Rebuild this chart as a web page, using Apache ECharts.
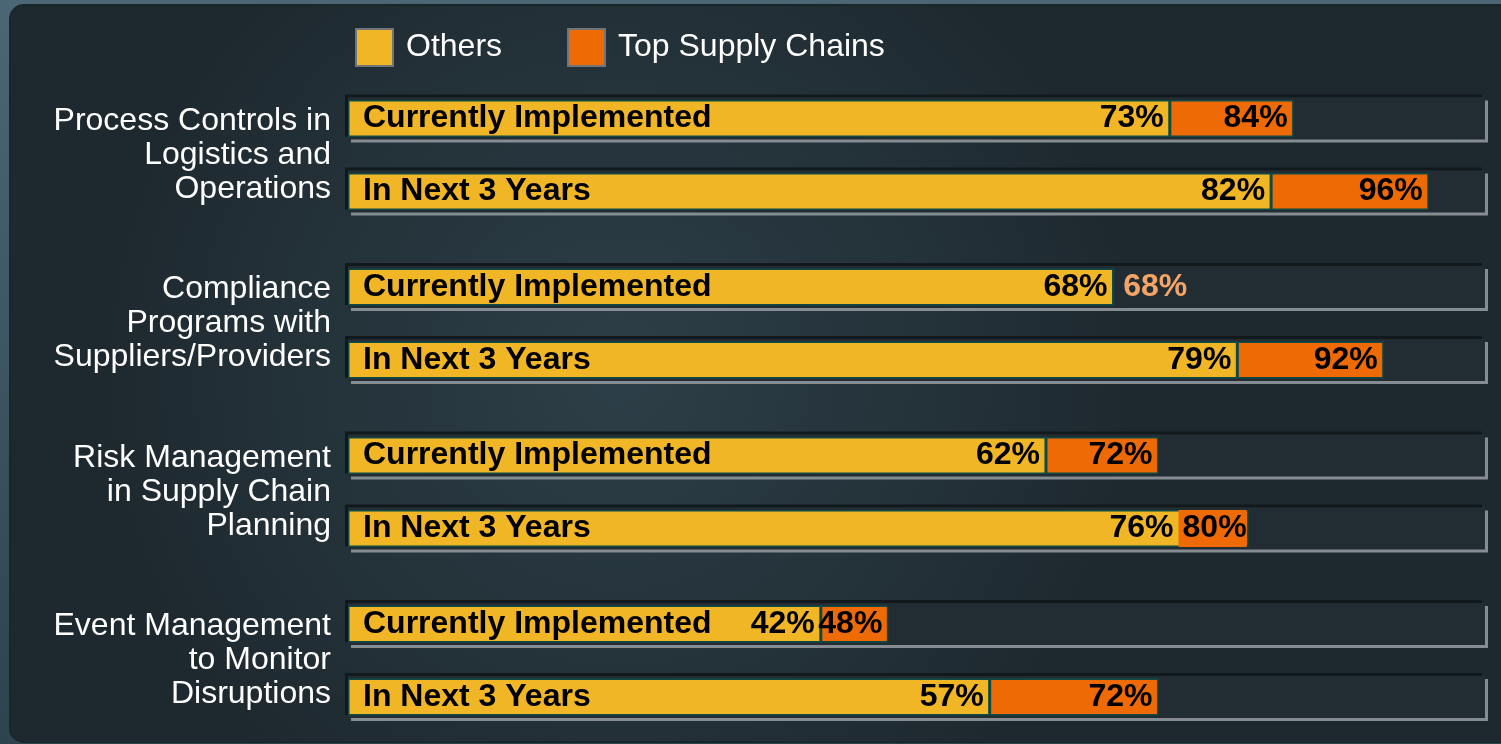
<!DOCTYPE html>
<html>
<head>
<meta charset="utf-8">
<title>Supply chain practices</title>
<script src="https://cdn.jsdelivr.net/npm/echarts@6/dist/echarts.min.js"></script>
<style>
  html, body { margin: 0; padding: 0; background: #3d5663; }
  #main { width: 1501px; height: 744px; }
</style>
</head>
<body>
<div id="main"></div>
<script>
// data
var groupNames = [
  'Process Controls in\nLogistics and\nOperations',
  'Compliance\nPrograms with\nSuppliers/Providers',
  'Risk Management\nin Supply Chain\nPlanning',
  'Event Management\nto Monitor\nDisruptions'
];
var rowNames = ['Currently Implemented', 'In Next 3 Years'];
var othersVals = [73, 82, 68, 79, 62, 76, 42, 57];
var topVals = [84, 96, 68, 92, 72, 80, 48, 72];
var legendNames = ['Others', 'Top Supply Chains'];
var axisMax = 101;

var YELLOW = '#f0b626';
var ORANGE = '#ee6a04';
var EDGE = '#0f4a47';
var TRACK = '#222d33';
var font = "'Liberation Sans', Arial, sans-serif";

var myChart = echarts.init(document.getElementById('main'));

var grids = [], xAxes = [], yAxes = [], series = [];

groupNames.forEach(function (g, i) {
  var o = othersVals.slice(i * 2, i * 2 + 2);
  var t = topVals.slice(i * 2, i * 2 + 2);

  grids.push({ left: 348, right: 16, top: 82 + i * 168.5, height: 146 });
  xAxes.push({ type: 'value', gridIndex: i, min: 0, max: axisMax, show: false });
  // rows axis: row names inside the bars, group name on the left
  yAxes.push({
    type: 'category', gridIndex: i, data: rowNames, inverse: true, z: 5,
    axisLine: { show: false }, axisTick: { show: false }, splitLine: { show: false },
    axisLabel: { inside: true, margin: 15, color: '#000', fontWeight: 'bold', fontSize: 32, fontFamily: font, padding: [5, 0, 0, 0] },
    name: g, nameLocation: 'middle', nameGap: 17, nameRotate: 0,
    nameTextStyle: { color: '#fff', fontSize: 32, lineHeight: 34, align: 'right', verticalAlign: 'middle', fontFamily: font, padding: [8, 0, 0, 0] }
  });
  // separate axis for the background tracks so they stay centred
  yAxes.push({ type: 'category', gridIndex: i, data: rowNames, inverse: true, position: 'right', show: false });

  var trackData = rowNames.map(function () { return axisMax; });
  series.push({
    type: 'bar', xAxisIndex: i, yAxisIndex: i * 2 + 1, data: trackData, barWidth: 42, barGap: '-100%', silent: true,
    itemStyle: { color: TRACK, shadowColor: '#12191d', shadowBlur: 0, shadowOffsetX: -3, shadowOffsetY: -3 }
  });
  series.push({
    type: 'bar', xAxisIndex: i, yAxisIndex: i * 2 + 1, data: trackData, barWidth: 42, barGap: '-100%', silent: true,
    itemStyle: { color: TRACK, shadowColor: '#868d92', shadowBlur: 0, shadowOffsetX: 3, shadowOffsetY: 3 }
  });

  var tight = t.map(function (v, k) { return v - o[k] > 0 && v - o[k] < 6; });

  series.push({
    name: 'Others', type: 'bar', stack: 's' + i, xAxisIndex: i, yAxisIndex: i * 2, barWidth: 37,
    data: o.map(function (v, k) {
      return tight[k] ? { value: v, label: { distance: 30 } } : v;
    }),
    itemStyle: { color: YELLOW, borderColor: EDGE, borderWidth: 1.5 },
    label: { show: true, position: 'insideRight', distance: 6, formatter: '{c}%', color: '#000', fontWeight: 'bold', fontSize: 32, fontFamily: font, padding: [5, 0, 0, 0] }
  });
  series.push({
    name: 'Top Supply Chains', type: 'bar', stack: 's' + i, xAxisIndex: i, yAxisIndex: i * 2, barWidth: 37,
    data: t.map(function (v, k) {
      var d = v - o[k];
      if (d === 0) return { value: 0, label: { position: 'right', distance: 9, color: '#f5a467' } };
      if (tight[k]) return { value: d, label: { distance: 2, backgroundColor: ORANGE, padding: [5, 0, 0, 4] } };
      return d;
    }),
    itemStyle: { color: ORANGE, borderColor: EDGE, borderWidth: 1.5 },
    label: {
      show: true, position: 'insideRight', distance: 6, color: '#000', fontWeight: 'bold', fontSize: 32, fontFamily: font, padding: [5, 0, 0, 0],
      formatter: function (p) { return t[p.dataIndex] + '%'; }
    }
  });
});

myChart.setOption({
  animation: false,
  backgroundColor: new echarts.graphic.LinearGradient(0, 0, 0, 1, [
    { offset: 0, color: '#4b6775' },
    { offset: 1, color: '#2d434e' }
  ]),
  graphic: {
    elements: [{
      type: 'rect', z: -10, silent: true,
      shape: { x: 10, y: 5, width: 1520, height: 737, r: 14 },
      style: {
        fill: new echarts.graphic.RadialGradient(0.4, 0.5, 0.7, [
          { offset: 0, color: '#2d3f48' },
          { offset: 1, color: '#1e292f' }
        ]),
        stroke: '#1b262b', lineWidth: 2
      }
    }]
  },
  legend: {
    data: legendNames, left: 350, top: 23, itemWidth: 37, itemHeight: 37, itemGap: 65,
    icon: 'rect',
    itemStyle: { borderColor: '#6f7579', borderWidth: 2 },
    textStyle: { color: '#fff', fontSize: 32, fontFamily: font, padding: [4, 0, 0, 8] }
  },
  grid: grids,
  xAxis: xAxes,
  yAxis: yAxes,
  series: series
});
</script>
</body>
</html>
